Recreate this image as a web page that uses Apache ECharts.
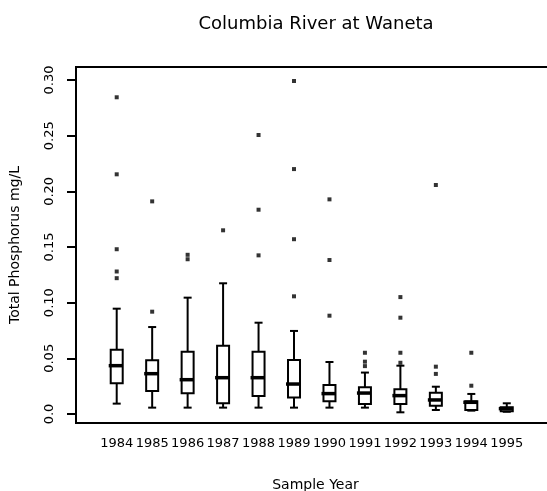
<!DOCTYPE html>
<html>
<head>
<meta charset="utf-8">
<script src="https://cdn.jsdelivr.net/npm/echarts@6/dist/echarts.min.js"></script>
<style>
    html, body { margin: 0; padding: 0; background: #fff; }
    #chart { width: 547px; height: 491px; }
</style>
</head>
<body>
<div id="chart"></div>
<script>
// sample years
const years = [1984, 1985, 1986, 1987, 1988, 1989, 1990, 1991, 1992, 1993, 1994, 1995];

// box statistics, mg/L
const lowWhisker = [0.0093, 0.0057, 0.0057, 0.0057, 0.0057, 0.0057, 0.0057, 0.0057, 0.0015, 0.0036, 0.0030, 0.0020];
const q1 = [0.0275, 0.0207, 0.0186, 0.0096, 0.0162, 0.0147, 0.0115, 0.0090, 0.0090, 0.0075, 0.0036, 0.0025];
const median = [0.0434, 0.0362, 0.0308, 0.0326, 0.0326, 0.0269, 0.0183, 0.0188, 0.0165, 0.0126, 0.0105, 0.0048];
const q3 = [0.0578, 0.0482, 0.0560, 0.0614, 0.0560, 0.0485, 0.0260, 0.0240, 0.0222, 0.0191, 0.0115, 0.0060];
const highWhisker = [0.0946, 0.0781, 0.1045, 0.1174, 0.0820, 0.0746, 0.0467, 0.0372, 0.0434, 0.0245, 0.0180, 0.0096];

// outliers per year
const outliers = [
    [0.2845, 0.2153, 0.148, 0.128, 0.122],
    [0.191, 0.0919],
    [0.143, 0.139],
    [0.165],
    [0.2506, 0.1835, 0.1425],
    [0.2991, 0.220, 0.157, 0.1057],
    [0.1928, 0.1383, 0.0883],
    [0.055, 0.047, 0.043],
    [0.105, 0.0865, 0.055, 0.046],
    [0.2057, 0.0425, 0.036],
    [0.055, 0.0254],
    []
];

// y tick labels
const yTicks = [0, 0.05, 0.10, 0.15, 0.20, 0.25, 0.30];
const yTickLabels = ['0.0', '0.05', '0.10', '0.15', '0.20', '0.25', '0.30'];

const boxData = years.map((y, i) => [y, lowWhisker[i], q1[i], median[i], q3[i], highWhisker[i]]);
const outlierData = [];
years.forEach((y, i) => {
    outliers[i].forEach(v => outlierData.push([y, v]));
});

const FONT = 'DejaVu Sans';

// draw one box: whiskers + caps + box + median
const renderBox = (params, api) => {
    const x = api.value(0);
    const pLow = api.coord([x, api.value(1)]);
    const pQ1 = api.coord([x, api.value(2)]);
    const pMed = api.coord([x, api.value(3)]);
    const pQ3 = api.coord([x, api.value(4)]);
    const pHigh = api.coord([x, api.value(5)]);
    const cx = pMed[0];
    const boxW = 12;
    const capW = 8;
    const medW = 14;
    const line = { stroke: '#000', lineWidth: 2 };
    return {
        type: 'group',
        children: [
            { type: 'line', shape: { x1: cx, y1: pLow[1], x2: cx, y2: pQ1[1] }, style: line },
            { type: 'line', shape: { x1: cx, y1: pQ3[1], x2: cx, y2: pHigh[1] }, style: line },
            { type: 'line', shape: { x1: cx - capW / 2, y1: pLow[1], x2: cx + capW / 2, y2: pLow[1] }, style: line },
            { type: 'line', shape: { x1: cx - capW / 2, y1: pHigh[1], x2: cx + capW / 2, y2: pHigh[1] }, style: line },
            {
                type: 'rect',
                shape: { x: cx - boxW / 2, y: pQ3[1], width: boxW, height: pQ1[1] - pQ3[1] },
                style: { fill: '#fff', stroke: '#000', lineWidth: 2 }
            },
            { type: 'line', shape: { x1: cx - medW / 2 - 1, y1: pMed[1], x2: cx + medW / 2 - 1, y2: pMed[1] }, style: { stroke: '#000', lineWidth: 3.5 } }
        ]
    };
};

const chart = echarts.init(document.getElementById('chart'));

const options = {
    animation: false,
    backgroundColor: '#fff',
    title: {
        text: 'Columbia River at Waneta',
        left: 311,
        textAlign: 'center',
        top: 10,
        textStyle: { fontFamily: FONT, fontSize: 18, fontWeight: 'normal', color: '#000' }
    },
    grid: {
        left: 76,
        right: -8,
        top: 67,
        bottom: 68,
        outerBoundsMode: 'none',
        show: true,
        borderColor: '#000',
        borderWidth: 2
    },
    xAxis: {
        type: 'value',
        min: 1982.852,
        max: 1996.36,
        name: 'Sample Year',
        nameLocation: 'middle',
        nameGap: 55,
        nameTextStyle: { fontFamily: FONT, fontSize: 14, color: '#000' },
        axisLine: { show: false },
        axisTick: { show: false },
        splitLine: { show: false },
        axisLabel: {
            customValues: years,
            formatter: v => String(v),
            margin: 14,
            fontFamily: FONT,
            fontSize: 13,
            color: '#000'
        }
    },
    yAxis: {
        type: 'value',
        min: -0.0081,
        max: 0.3117,
        name: 'Total Phosphorus mg/L',
        nameLocation: 'middle',
        nameRotate: 90,
        nameGap: 54,
        nameTextStyle: { fontFamily: FONT, fontSize: 14, color: '#000' },
        axisLine: { show: false },
        splitLine: { show: false },
        axisTick: {
            show: true,
            customValues: yTicks,
            length: 9,
            lineStyle: { color: '#000', width: 2 }
        },
        axisLabel: {
            customValues: yTicks,
            formatter: v => yTickLabels[yTicks.findIndex(t => Math.abs(t - v) < 1e-9)] ?? '',
            rotate: 90,
            margin: 20,
            fontFamily: FONT,
            fontSize: 13,
            color: '#000'
        }
    },
    series: [
        {
            type: 'custom',
            renderItem: renderBox,
            data: boxData,
            encode: { x: 0, y: [1, 2, 3, 4, 5] },
            z: 2
        },
        {
            type: 'scatter',
            symbol: 'rect',
            symbolSize: 4,
            itemStyle: { color: '#000' },
            data: outlierData,
            z: 3
        }
    ]
};

chart.setOption(options);
</script>
</body>
</html>
